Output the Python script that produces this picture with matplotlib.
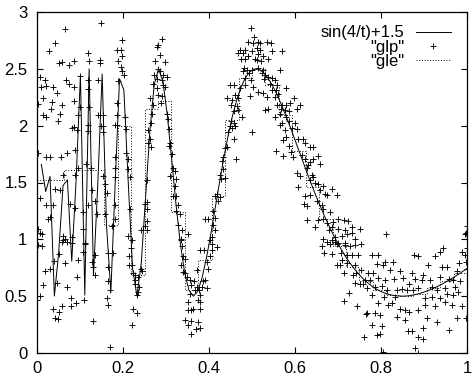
import numpy as np
import matplotlib
matplotlib.use("Agg")
import matplotlib.pyplot as plt
from matplotlib.lines import Line2D

plt.rcParams['font.family'] = ['Liberation Sans', 'DejaVu Sans']

# ---- function curve: sin(4/t)+1.5, sampled like gnuplot (100 samples on [0,1])
t_samples = np.linspace(0, 1, 100)[1:]
func_values = np.sin(4 / t_samples) + 1.5

# ---- "gle": binned step data (bin edges and values)
gle_edges = [i / 32 for i in range(33)]
gle_values = [1.52, 1.52, 1.61, 1.61, 1.61, 1.13, 2.00, 0.69, 2.15, 2.22,
              1.24, 0.55, 0.82, 1.38, 2.05, 2.42, 2.50, 2.36, 2.09, 1.78,
              1.46, 1.18, 0.94, 0.76, 0.63, 0.55, 0.51, 0.50, 0.52, 0.57,
              0.63, 0.70]

# ---- "glp": scattered points
glp_x = [
 0.065,0.150,0.042,0.028,0.119,0.121,0.147,0.147,0.050,0.059,0.087,0.075,0.198,0.187,0.195,0.198,0.189,0.195,0.198,0.203,
 0.189,0.007,0.018,0.022,0.009,0.038,0.046,0.067,0.075,0.087,0.099,0.119,0.119,0.142,0.015,0.034,0.033,0.059,0.053,0.085,
 0.100,0.096,0.121,0.142,0.154,0.185,0.185,0.205,0.013,0.022,0.048,0.085,0.119,0.150,0.185,0.002,
 0.291,0.282,0.278,0.286,0.274,0.298,0.282,0.286,0.273,0.294,0.302,0.278,0.290,0.270,0.294,0.278,0.298,0.263,0.282,0.290,
 0.270,0.288,0.302,0.305,0.267,0.265,
 0.498,0.505,0.491,0.502,0.472,0.484,0.499,0.467,0.480,0.491,0.475,0.484,0.507,0.482,0.488,0.499,0.480,0.492,0.484,0.497,
 0.484,0.449,0.459,0.503,0.472,0.495,0.460,0.441,0.454,0.468,0.451,0.464,0.459,0.468,0.476,0.451,0.459,
 0.515,0.519,0.534,0.544,0.511,0.519,0.546,0.569,0.515,0.526,0.511,0.521,0.538,0.515,0.526,0.565,0.523,0.530,0.538,0.546,
 0.529,0.554,0.542,0.557,0.515,0.526,0.546,0.555,0.578,0.536,0.554,0.561,0.598,0.557,0.569,0.580,0.588,0.604,0.612,0.538,
 0.530,0.567,0.576,0.585,0.554,0.565,0.580,0.585,0.600,0.569,
 0.081,0.092,0.119,0.154,0.154,0.181,0.208,0.003,0.022,0.030,0.056,0.069,0.088,0.095,0.088,0.061,0.115,0.126,0.154,0.158,
 0.181,0.181,0.181,0.208,0.212,0.212,0.216,0.251,0.007,0.022,0.038,0.042,0.053,0.077,0.088,0.030,0.026,0.108,0.119,0.127,
 0.135,0.139,0.162,0.158,0.174,0.181,0.181,0.216,0.212,0.251,0.243,0.002,0.007,0.011,0.061,0.065,0.081,0.108,0.081,0.061,
 0.112,0.220,
 0.259,0.263,0.259,0.265,0.255,0.255,0.255,0.255,0.255,
 0.307,0.309,0.307,0.313,0.317,0.321,0.309,0.324,0.322,0.317,0.324,0.329,0.324,0.332,0.329,0.337,0.352,0.335,
 0.449,0.461,0.454,0.445,0.457,0.499,0.441,0.437,0.462,0.433,0.430,0.433,0.425,0.437,0.428,0.418,0.414,0.425,0.422,0.410,
 0.391,0.398,0.414,0.410,0.414,0.406,0.402,
 0.565,0.577,0.592,0.604,0.580,0.573,0.608,0.619,0.623,0.643,0.635,0.555,0.585,0.591,0.571,0.596,0.616,0.623,0.643,0.654,
 0.635,0.658,0.627,0.631,0.604,0.612,0.639,0.643,0.635,0.646,0.654,0.608,0.666,0.686,0.658,0.670,0.674,0.697,0.623,0.635,
 0.650,0.662,0.622,0.629,0.666,0.682,0.701,0.627,0.654,0.666,0.674,0.689,0.713,0.723,0.646,0.685,0.699,0.716,0.732,0.751,
 0.678,0.693,0.709,0.720,0.732,0.666,0.685,0.701,0.716,0.740,
 0.811,0.995,0.999,0.997,
 0.003,0.011,0.057,0.069,0.112,0.108,0.051,0.040,0.030,0.019,0.064,0.095,0.135,0.129,0.131,0.135,0.092,0.046,0.069,0.015,
 0.166,0.177,0.166,0.166,0.170,0.162,0.166,0.001,0.007,0.079,0.110,0.090,0.079,0.038,0.057,0.051,0.043,0.048,0.131,0.170,
 0.219,0.214,0.220,0.214,0.224,0.228,0.234,0.229,0.228,0.237,0.236,0.232,0.224,0.232,0.222,0.242,0.245,
 0.335,0.338,0.340,0.344,0.336,0.340,0.344,0.348,0.356,0.352,0.351,0.363,0.359,0.371,0.366,0.371,0.367,0.376,0.359,0.356,
 0.379,0.375,0.387,0.391,0.395,0.383,0.379,0.379,0.344,0.358,0.352,0.374,0.369,0.379,0.358,0.379,0.389,0.406,0.418,0.402,
 0.395,0.398,0.406,
 0.662,0.674,0.681,0.693,0.697,0.716,0.727,0.739,0.754,0.668,0.687,0.707,0.720,0.732,0.747,0.710,0.720,0.697,0.704,0.739,
 0.753,0.714,0.736,0.743,0.739,0.751,0.758,0.726,0.713,0.745,0.764,0.761,
 0.945,0.937,0.988,0.995,0.999,0.778,0.794,0.877,0.887,0.926,0.809,0.829,0.790,0.805,0.910,0.941,0.953,0.981,0.997,0.821,
 0.845,0.770,0.782,0.871,0.898,0.976,0.999,0.763,0.774,0.794,0.809,0.831,0.852,0.864,0.879,0.895,0.914,0.937,0.957,0.968,
 0.984,0.767,0.786,0.802,0.813,0.837,0.848,0.860,0.875,0.887,0.918,0.930,0.949,0.972,0.979,0.778,0.806,0.833,0.902,0.918,
 0.937,0.953,0.968,0.794,0.817,0.825,0.844,0.856,0.864,0.887,0.902,0.926,0.949,0.964,0.988,0.767,0.786,0.798,0.837,0.856,
 0.906,0.930,0.976,0.998,0.778,0.802,0.862,0.871,0.898,0.957,0.790,0.798,0.887,0.898,0.805,0.879,0.887,
]
glp_y = [
 2.85,2.90,2.73,2.66,2.64,2.57,2.58,2.55,2.55,2.56,2.57,2.53,2.75,2.67,2.67,2.61,2.57,2.52,2.48,2.45,
 2.39,2.43,2.40,2.35,2.34,2.34,2.29,2.40,2.37,2.34,2.44,2.40,2.32,2.40,2.24,2.21,2.15,2.18,2.10,2.22,
 2.16,2.09,2.16,2.09,2.09,2.20,2.09,2.08,2.09,2.08,2.04,1.99,2.01,2.00,2.01,2.19,
 2.76,2.71,2.69,2.62,2.57,2.56,2.50,2.48,2.45,2.45,2.43,2.41,2.40,2.37,2.36,2.33,2.34,2.24,2.27,2.26,
 2.18,2.20,2.10,2.06,2.10,2.02,
 2.86,2.78,2.74,2.73,2.67,2.67,2.66,2.64,2.64,2.61,2.59,2.59,2.59,2.51,2.49,2.49,2.48,2.46,2.42,2.40,
 2.36,2.36,2.36,2.34,2.33,2.26,2.27,2.24,2.23,2.24,2.18,2.17,2.13,2.14,2.08,2.04,2.02,
 2.74,2.73,2.74,2.73,2.68,2.67,2.66,2.66,2.63,2.61,2.58,2.57,2.59,2.51,2.49,2.49,2.46,2.45,2.43,2.42,
 2.41,2.40,2.37,2.36,2.30,2.29,2.31,2.31,2.33,2.25,2.25,2.28,2.24,2.18,2.18,2.18,2.20,2.15,2.18,2.15,
 2.14,2.15,2.14,2.13,2.08,2.10,2.08,2.04,2.02,2.02,
 1.98,1.96,1.95,2.00,1.94,2.01,1.97,1.76,1.72,1.72,1.72,1.76,1.79,1.63,1.57,1.57,1.66,1.63,1.56,1.49,
 1.72,1.63,1.55,1.76,1.71,1.62,1.55,1.31,1.36,1.30,1.30,1.44,1.43,1.31,1.28,1.20,1.18,1.24,1.30,1.43,
 1.34,1.22,1.41,1.22,1.12,1.30,1.18,1.27,1.03,1.12,1.08,1.09,1.06,1.05,1.03,1.00,1.02,1.09,0.97,0.99,
 0.97,0.99,
 1.96,1.88,1.85,1.81,1.52,1.33,1.27,1.16,1.08,
 1.97,1.85,1.82,1.75,1.63,1.60,1.56,1.53,1.47,1.38,1.38,1.30,1.25,1.22,1.13,1.08,1.05,1.00,
 2.00,2.00,1.98,1.94,1.88,1.94,1.81,1.80,1.71,1.72,1.69,1.62,1.57,1.54,1.53,1.40,1.38,1.37,1.34,1.25,
 1.18,1.18,1.19,1.13,1.08,1.02,0.99,
 2.01,1.96,1.98,1.97,1.90,1.87,1.88,1.88,1.85,1.81,1.81,1.78,1.82,1.77,1.73,1.72,1.74,1.71,1.71,1.73,
 1.68,1.66,1.63,1.65,1.58,1.56,1.57,1.55,1.52,1.50,1.49,1.46,1.47,1.44,1.43,1.40,1.39,1.39,1.38,1.39,
 1.34,1.30,1.31,1.29,1.27,1.24,1.18,1.17,1.17,1.18,1.14,1.15,1.17,1.16,1.11,1.11,1.09,1.08,1.11,1.09,
 1.08,1.02,1.03,1.05,1.06,1.00,0.99,0.97,0.97,1.00,
 1.05,1.05,1.12,1.06,
 0.95,0.94,0.98,0.98,0.96,0.89,0.87,0.81,0.74,0.72,0.79,0.82,0.86,0.80,0.76,0.69,0.67,0.62,0.58,0.60,
 0.88,0.88,0.76,0.63,0.55,0.48,0.42,0.47,0.50,0.48,0.47,0.44,0.41,0.39,0.41,0.36,0.31,0.30,0.28,0.05,
 0.92,0.85,0.77,0.77,0.70,0.69,0.67,0.64,0.61,0.58,0.54,0.51,0.39,0.35,0.25,0.74,0.72,
 0.99,0.94,0.85,0.83,0.77,0.71,0.70,0.67,0.52,0.45,0.38,0.39,0.38,0.73,0.63,0.58,0.55,0.55,0.60,0.64,
 0.51,0.47,0.63,0.64,0.57,0.58,0.45,0.39,0.29,0.28,0.25,0.27,0.21,0.22,0.17,0.91,0.91,0.91,0.93,0.85,
 0.80,0.74,0.96,
 0.94,0.98,0.96,0.98,0.96,0.95,0.94,0.95,0.96,0.88,0.87,0.88,0.86,0.86,0.86,0.82,0.79,0.77,0.77,0.77,
 0.73,0.70,0.69,0.70,0.62,0.61,0.61,0.53,0.46,0.41,0.34,0.14,
 0.92,0.89,0.89,0.86,0.92,0.86,0.86,0.86,0.85,0.85,0.80,0.80,0.78,0.77,0.77,0.76,0.76,0.79,0.80,0.73,
 0.72,0.70,0.70,0.70,0.69,0.72,0.74,0.64,0.64,0.66,0.64,0.65,0.66,0.61,0.65,0.64,0.64,0.67,0.65,0.64,
 0.63,0.57,0.58,0.59,0.55,0.55,0.56,0.55,0.55,0.57,0.58,0.55,0.57,0.58,0.54,0.51,0.49,0.49,0.48,0.49,
 0.48,0.52,0.51,0.44,0.42,0.44,0.39,0.38,0.36,0.38,0.42,0.41,0.45,0.42,0.41,0.35,0.35,0.33,0.32,0.29,
 0.31,0.27,0.31,0.31,0.25,0.24,0.19,0.19,0.22,0.20,0.16,0.17,0.14,0.12,0.01,0.04,0.00,
]

x_ticks = [0, 0.2, 0.4, 0.6, 0.8, 1]
x_tick_labels = ["0", "0.2", "0.4", "0.6", "0.8", "1"]
y_ticks = [0, 0.5, 1, 1.5, 2, 2.5, 3]
y_tick_labels = ["0", "0.5", "1", "1.5", "2", "2.5", "3"]
legend_labels = ["sin(4/t)+1.5", '"glp"', '"gle"']

fig = plt.figure(figsize=(4.77, 3.87), dpi=100)
ax = fig.add_axes([37 / 477, 34 / 387, 430 / 477, 341 / 387])

ax.plot(t_samples, func_values, color="black", lw=0.7)
ax.plot(glp_x, glp_y, linestyle="none", marker="+", ms=5, mew=0.65, color="black")
ax.stairs(gle_values, gle_edges, color="black", lw=0.7, linestyle=(0, (1, 1.8)), baseline=None)

ax.set_xlim(0, 1)
ax.set_ylim(0, 3)
ax.set_xticks(x_ticks)
ax.set_xticklabels(x_tick_labels)
ax.set_yticks(y_ticks)
ax.set_yticklabels(y_tick_labels)
ax.tick_params(direction="in", length=4.5, width=0.8, top=True, right=True,
               labelsize=12, pad=6)
ax.tick_params(axis="y", pad=7)
for s in ax.spines.values():
    s.set_linewidth(0.9)

handles = [Line2D([], [], color="black", lw=0.7),
           Line2D([], [], linestyle="none", marker="+", ms=5, mew=0.65, color="black"),
           Line2D([], [], color="black", lw=0.7, linestyle=(0, (1, 1.8)))]
ax.legend(handles, legend_labels, loc="upper right", bbox_to_anchor=(0.985, 0.99),
          markerfirst=False, frameon=False, fontsize=12, handlelength=2.1,
          handletextpad=0.7, labelspacing=-0.05, borderaxespad=0.2)

fig.savefig("out.png", dpi=100)
